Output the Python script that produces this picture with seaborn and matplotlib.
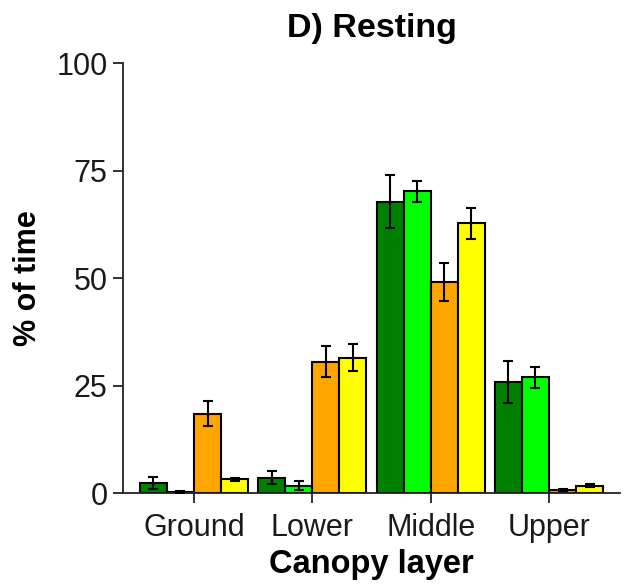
import numpy as np
import pandas as pd
import matplotlib
matplotlib.use("Agg")
import matplotlib.pyplot as plt
import seaborn as sns

# ---- data ----
layers = ["Ground", "Lower", "Middle", "Upper"]
groups = ["Group 1", "Group 2", "Group 3", "Group 4"]
colors = ["#008000", "#00FF00", "#FFA500", "#FFFF00"]

mean_g1 = [2.3, 3.6, 67.8, 25.9]
mean_g2 = [0.3, 1.7, 70.2, 26.9]
mean_g3 = [18.5, 30.6, 49.1, 0.7]
mean_g4 = [3.2, 31.5, 62.7, 1.7]

se_g1 = [1.4, 1.6, 6.1, 4.9]
se_g2 = [0.2, 1.0, 2.4, 2.4]
se_g3 = [2.9, 3.6, 4.5, 0.3]
se_g4 = [0.4, 3.1, 3.6, 0.3]

yticks = [0, 25, 50, 75, 100]

means = [mean_g1, mean_g2, mean_g3, mean_g4]
ses = [se_g1, se_g2, se_g3, se_g4]
rows = []
for g, m, s in zip(groups, means, ses):
    for lay, mv, sv in zip(layers, m, s):
        rows.append({"layer": lay, "group": g, "pct": mv, "se": sv})
df = pd.DataFrame(rows)

sns.set_style("ticks")
plt.rcParams["font.family"] = ["Liberation Sans", "DejaVu Sans"]

fig = plt.figure(figsize=(6.29, 5.87), dpi=100)
ax = fig.add_axes([0.1955, 0.160, 0.7902, 0.7325])

sns.barplot(data=df, x="layer", y="pct", hue="group", order=layers,
            hue_order=groups, palette=colors, saturation=1, width=0.915,
            errorbar=None, edgecolor="black", linewidth=1.5, legend=False,
            ax=ax)

# error bars placed on each bar's centre
for gi, g in enumerate(groups):
    cont = ax.containers[gi]
    xs = [p.get_x() + p.get_width() / 2 for p in cont.patches]
    ax.errorbar(xs, means[gi], yerr=ses[gi], fmt="none", ecolor="black",
                elinewidth=1.5, capsize=3.5, capthick=1.5, zorder=5)

ax.set_ylim(0, 100)
ax.set_xlim(-0.6, 3.6)
ax.set_yticks(yticks)
ax.set_yticklabels([str(v) for v in yticks])
for s in ["top", "right"]:
    ax.spines[s].set_visible(False)
for s in ["left", "bottom"]:
    ax.spines[s].set_linewidth(1.3)
    ax.spines[s].set_color("#222222")
ax.tick_params(axis="both", labelsize=22, length=7, width=1.3, color="#222222",
               labelcolor="#1a1a1a")
ax.tick_params(axis="y", pad=4)
ax.tick_params(axis="x", pad=7)
ax.set_xlabel("Canopy layer", fontsize=23.5, fontweight="bold", labelpad=5,
              color="black")
ax.set_ylabel("% of time", fontsize=22, fontweight="bold", labelpad=10,
              color="black")
ax.set_title("D) Resting", fontsize=24.5, fontweight="bold", pad=19,
             color="black")

fig.savefig("out.png", dpi=100)
